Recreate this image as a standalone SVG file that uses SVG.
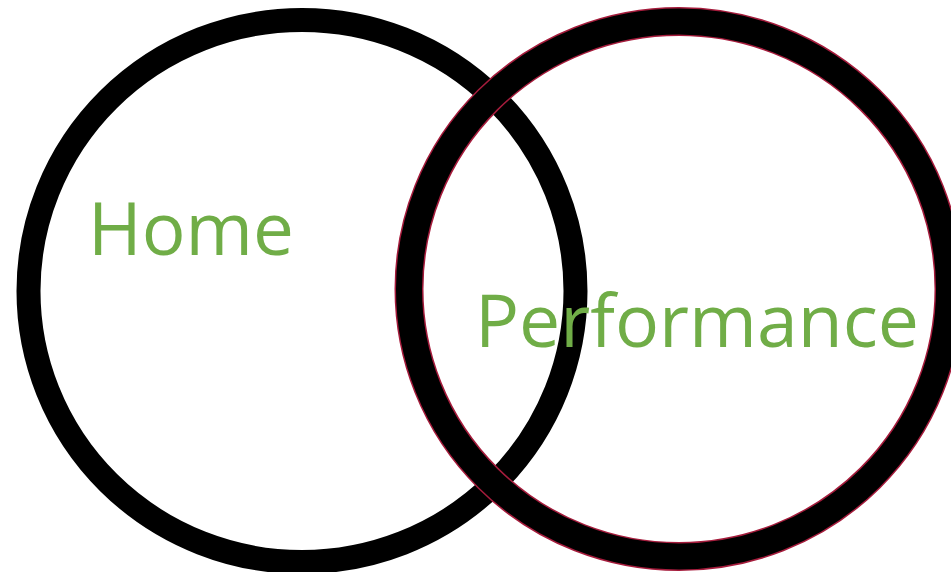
<svg xmlns="http://www.w3.org/2000/svg" width="951" height="572" viewBox="0 0 951 572">
  <style>
    .ring { fill: none; stroke: #000; stroke-width: 24; }
    .ring-thick { fill: none; stroke: #000; stroke-width: 26; }
    .ring-edge { fill: none; stroke: #A51C3C; stroke-width: 29; }
    .label { font-family: "Open Sans", "Noto Sans", sans-serif; font-size: 73px; fill: #70AD47; }
  </style>
  <rect width="951" height="572" fill="#fff"/>
  <g id="home-ring">
    <ellipse class="ring" cx="302" cy="291" rx="273.5" ry="271"/>
  </g>
  <g id="performance-ring">
    <ellipse class="ring-edge" cx="679" cy="289" rx="270" ry="267.5"/>
    <ellipse class="ring-thick" cx="679" cy="289" rx="270" ry="267.5"/>
  </g>
  <g id="home-label">
    <text class="label" x="88" y="255" textLength="206" lengthAdjust="spacingAndGlyphs">Home</text>
  </g>
  <g id="performance-label">
    <text class="label" x="475" y="347" textLength="444" lengthAdjust="spacingAndGlyphs">Performance</text>
  </g>
</svg>
